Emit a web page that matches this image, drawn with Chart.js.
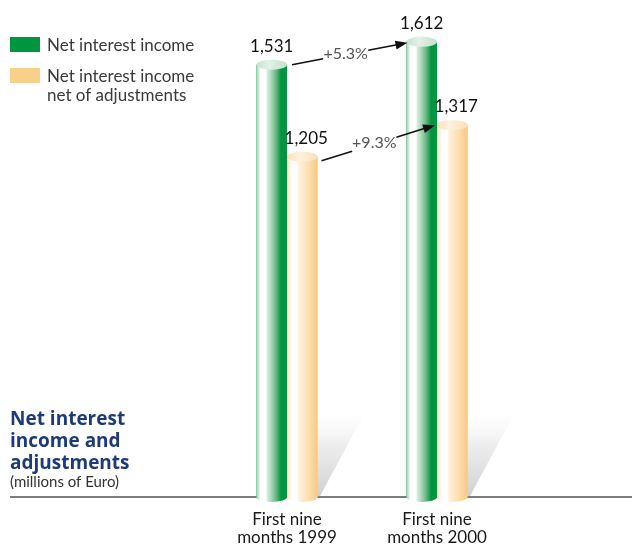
<!DOCTYPE html>
<html>
<head>
<meta charset="utf-8">
<script src="https://cdn.jsdelivr.net/npm/chart.js@4.4.0/dist/chart.umd.min.js"></script>
<style>
  body { margin: 0; background: #fff; }
  canvas { display: block; }
</style>
</head>
<body>
<canvas id="chart" width="632" height="544"></canvas>
<script>
const categories = [['First nine', 'months 1999'], ['First nine', 'months 2000']];
const seriesNames = [['Net interest income'], ['Net interest income', 'net of adjustments']];
const netInterest = [1531, 1612];
const netOfAdjustments = [1205, 1317];
const titleLines = ['Net interest', 'income and', 'adjustments'];
const unitLabel = '(millions of Euro)';

const FONT = 'Lato, "Open Sans", sans-serif';
const GREEN = '#009640';
const PEACH = '#f9cf8c';

// side-lit shading for each cylinder body, left to right
const greenStops = [[0, '#a3d3b0'], [0.08, '#d3ebd9'], [0.12, '#ffffff'], [0.3, '#ffffff'],
  [0.36, '#d6ecdc'], [0.46, '#b3dbbf'], [0.56, '#8dc79e'], [0.66, '#5fb27b'],
  [0.76, '#1f9e52'], [0.8, '#009640'], [1, '#009640']];
const peachStops = [[0, '#fbe2bf'], [0.1, '#fff3e4'], [0.17, '#ffffff'], [0.32, '#ffffff'],
  [0.4, '#fff0dc'], [0.7, '#fddfb0'], [1, '#f8c981']];

const fmt = v => v.toLocaleString('en-US');
const pct = (a, b) => '+' + ((b / a - 1) * 100).toFixed(1) + '%';

function drawCylinder(ctx, bar, stops, top) {
  const w = bar.width, l = bar.x - w / 2, ry = 5;
  const g = ctx.createLinearGradient(l, 0, l + w, 0);
  stops.forEach(s => g.addColorStop(s[0], s[1]));
  ctx.fillStyle = g;
  ctx.beginPath();
  ctx.moveTo(l, bar.y);
  ctx.lineTo(l, bar.base);
  ctx.ellipse(bar.x, bar.base, w / 2, ry, 0, Math.PI, 0, true);
  ctx.lineTo(l + w, bar.y);
  ctx.closePath();
  ctx.fill();
  const tg = ctx.createLinearGradient(l, 0, l + w, 0);
  tg.addColorStop(0, top[0]);
  tg.addColorStop(0.4, top[1]);
  tg.addColorStop(1, top[0]);
  ctx.fillStyle = tg;
  ctx.beginPath();
  ctx.ellipse(bar.x, bar.y, w / 2, ry, 0, 0, Math.PI * 2);
  ctx.fill();
}

function drawArrow(ctx, x0, y0, x1, y1, label) {
  const dx = x1 - x0, dy = y1 - y0, len = Math.hypot(dx, dy);
  const ux = dx / len, uy = dy / len;
  const at = t => [x0 + dx * t, y0 + dy * t];
  ctx.save();
  ctx.strokeStyle = '#111';
  ctx.lineWidth = 1.6;
  ctx.beginPath();
  ctx.moveTo(x0, y0); ctx.lineTo(...at(0.27));
  ctx.moveTo(...at(0.66)); ctx.lineTo(x1 - ux * 8, y1 - uy * 8);
  ctx.stroke();
  ctx.fillStyle = '#111';
  ctx.beginPath();
  ctx.moveTo(x1, y1);
  ctx.lineTo(x1 - ux * 12 - uy * 4.5, y1 - uy * 12 + ux * 4.5);
  ctx.lineTo(x1 - ux * 12 + uy * 4.5, y1 - uy * 12 - ux * 4.5);
  ctx.closePath();
  ctx.fill();
  const [tx, ty] = at(0.465);
  ctx.fillStyle = '#555';
  ctx.font = '16px ' + FONT;
  ctx.textAlign = 'center';
  ctx.textBaseline = 'middle';
  ctx.fillText(label, tx, ty - 1);
  ctx.restore();
}

const decorations = {
  id: 'decorations',
  beforeDatasetsDraw(chart) {
    const { ctx } = chart;
    const base = chart.scales.y.getPixelForValue(0);
    ctx.save();
    // floor shadows behind each group
    chart.getDatasetMeta(1).data.forEach(bar => {
      const r = bar.x + bar.width / 2;
      const g = ctx.createLinearGradient(0, base, 0, base - 82);
      g.addColorStop(0, 'rgba(160,160,160,0.5)');
      g.addColorStop(0.6, 'rgba(190,190,190,0.3)');
      g.addColorStop(1, 'rgba(230,230,230,0.05)');
      ctx.fillStyle = g;
      ctx.beginPath();
      ctx.moveTo(r - 40, base);
      ctx.lineTo(r + 2, base);
      ctx.lineTo(r + 46, base - 82);
      ctx.lineTo(r + 4, base - 82);
      ctx.closePath();
      ctx.fill();
    });
    ctx.strokeStyle = '#7d7d7d';
    ctx.lineWidth = 2;
    ctx.beginPath();
    ctx.moveTo(10, base);
    ctx.lineTo(chart.width, base);
    ctx.stroke();
    ctx.restore();
  },
  afterDatasetsDraw(chart) {
    const { ctx } = chart;
    const y = chart.scales.y;
    const green = chart.getDatasetMeta(0).data;
    const peach = chart.getDatasetMeta(1).data;
    ctx.save();
    green.forEach(b => drawCylinder(ctx, b, greenStops, ['#c4e2cc', '#e2f1e6']));
    peach.forEach(b => drawCylinder(ctx, b, peachStops, ['#fbe0b8', '#fff1dd']));

    // value labels
    ctx.fillStyle = '#111';
    ctx.font = '17px ' + FONT;
    ctx.textAlign = 'center';
    ctx.textBaseline = 'alphabetic';
    green.forEach((b, i) => ctx.fillText(fmt(netInterest[i]), b.x, b.y - 13));
    peach.forEach((b, i) => ctx.fillText(fmt(netOfAdjustments[i]), b.x + 4, b.y - 13));

    // growth arrows
    const g0 = green[0], g1 = green[1], p0 = peach[0], p1 = peach[1];
    drawArrow(ctx, g0.x + g0.width / 2 + 5, y.getPixelForValue(netInterest[0]),
      g1.x - g1.width / 2 + 1, y.getPixelForValue(netInterest[1]) + 1,
      pct(netInterest[0], netInterest[1]));
    drawArrow(ctx, p0.x + p0.width / 2 + 4, y.getPixelForValue(netOfAdjustments[0]) + 4,
      p1.x - p1.width / 2 - 2, y.getPixelForValue(netOfAdjustments[1]),
      pct(netOfAdjustments[0], netOfAdjustments[1]));

    // category labels under each group
    const x = chart.scales.x;
    ctx.fillStyle = '#1a1a1a';
    ctx.font = '17px ' + FONT;
    ctx.textAlign = 'center';
    categories.forEach((lines, i) => {
      const cx = x.getPixelForValue(i);
      lines.forEach((t, j) => ctx.fillText(t, cx, 525 + j * 18));
    });

    // legend
    const colors = [GREEN, PEACH];
    ctx.textAlign = 'left';
    ctx.font = '17px ' + FONT;
    const tops = [37, 68];
    seriesNames.forEach((lines, i) => {
      ctx.fillStyle = colors[i];
      ctx.fillRect(10, tops[i], 30, 15);
      ctx.fillStyle = '#3a3a3a';
      lines.forEach((t, j) => ctx.fillText(t, 47, tops[i] + 14 + j * 19));
    });

    // chart title
    ctx.fillStyle = '#1d3a7a';
    ctx.font = 'bold 19px "Open Sans", ' + FONT;
    titleLines.forEach((t, j) => ctx.fillText(t, 10, 425 + j * 22));
    ctx.fillStyle = '#333';
    ctx.font = '15px ' + FONT;
    ctx.fillText(unitLabel, 10, 487);
    ctx.restore();
  }
};

new Chart(document.getElementById('chart'), {
  type: 'bar',
  data: {
    labels: categories,
    datasets: [
      { label: seriesNames[0].join(' '), data: netInterest, backgroundColor: GREEN },
      { label: seriesNames[1].join(' '), data: netOfAdjustments, backgroundColor: PEACH }
    ]
  },
  options: {
    responsive: false,
    animation: false,
    devicePixelRatio: 1,
    layout: { padding: { left: 212, right: 120, top: 17, bottom: 47 } },
    datasets: { bar: { categoryPercentage: 0.407, barPercentage: 1, borderWidth: 0 } },
    scales: {
      x: { display: false },
      y: { display: false, min: 0, max: 1700 }
    },
    plugins: { legend: { display: false }, tooltip: { enabled: false } }
  },
  plugins: [decorations]
});
</script>
</body>
</html>
